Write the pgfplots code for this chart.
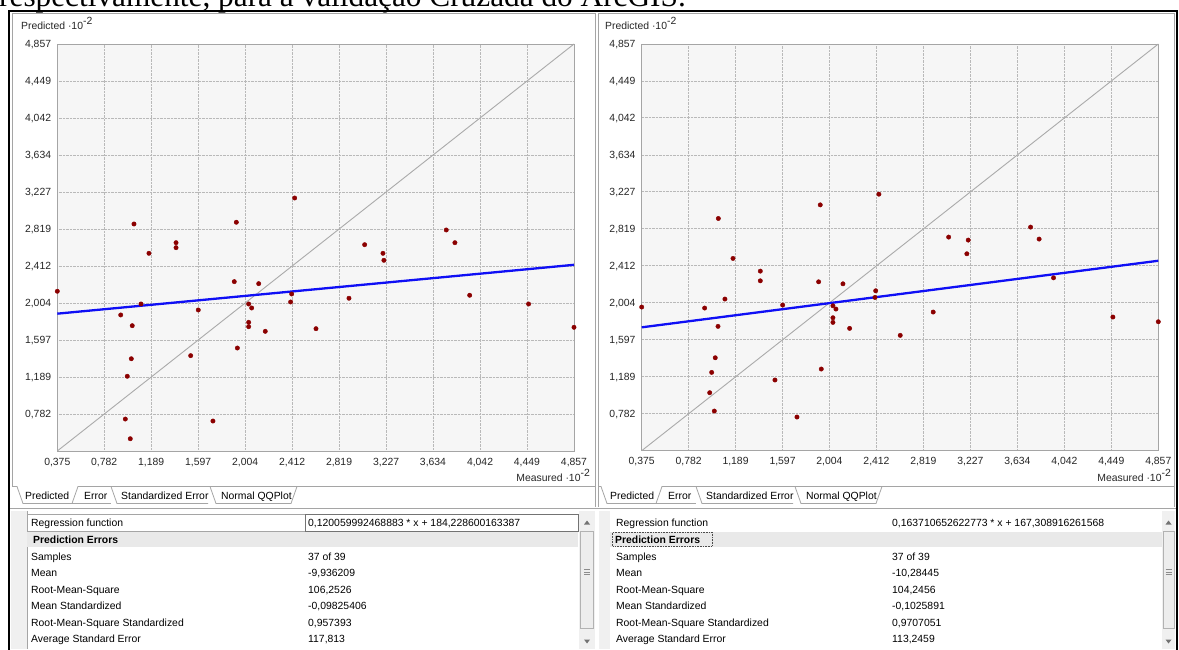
\documentclass[border=0pt]{standalone}
\usepackage{pgfplots}
\usepackage{pgfplotstable}
\pgfplotsset{compat=1.18}
\usepackage{fontspec}
\setmainfont{Liberation Sans}
\newfontfamily\seriffont{Liberation Serif}
\definecolor{ptred}{RGB}{139,0,0}
\definecolor{regblue}{RGB}{15,15,245}
\definecolor{diag}{RGB}{170,170,170}
\definecolor{plotbg}{RGB}{246,246,246}
\definecolor{gridc}{RGB}{185,185,185}
\definecolor{framec}{RGB}{165,165,165}
\definecolor{lightbg}{RGB}{240,240,240}
\definecolor{rowbg}{RGB}{233,233,233}
\newcommand{\tf}{\fontsize{10.4}{12}\selectfont}
\newcommand{\supm}{\raisebox{4.5pt}{-2}}

\pgfplotstableread{
x y
0.375 2.134
1.040 2.875
1.170 2.552
1.405 2.669
1.405 2.614
1.928 2.894
2.434 3.161
1.910 2.240
2.122 2.218
1.101 1.994
0.925 1.873
1.025 1.755
1.598 1.928
2.035 1.994
2.061 1.950
2.035 1.792
2.035 1.744
2.179 1.693
1.937 1.509
1.532 1.425
1.017 1.391
0.982 1.198
0.965 0.727
1.725 0.705
1.008 0.510
2.408 2.104
2.399 2.016
3.041 2.647
3.200 2.552
3.208 2.475
3.749 2.809
3.824 2.669
2.619 1.722
2.905 2.057
3.952 2.090
4.463 1.994
4.857 1.737
}\leftdata

\pgfplotstableread{
x y
0.375 1.958
1.040 2.934
1.167 2.494
1.404 2.354
1.404 2.247
1.924 3.084
2.433 3.202
1.910 2.236
2.121 2.214
1.097 2.046
0.921 1.947
1.037 1.745
1.598 1.980
2.034 1.972
2.060 1.936
2.034 1.840
2.034 1.789
2.179 1.723
1.933 1.275
1.531 1.154
1.013 1.399
0.982 1.238
0.965 1.014
1.005 0.812
1.722 0.746
2.405 2.137
2.399 2.064
3.038 2.729
3.208 2.696
3.196 2.545
3.749 2.839
3.823 2.707
2.618 1.646
2.904 1.903
3.948 2.280
4.463 1.848
4.857 1.796
}\rightdata

\pgfplotsset{panel/.style={
  scale only axis, width=516.7pt, height=407pt,
  xmin=0.375, xmax=4.857, ymin=0.375, ymax=4.857,
  xtick={0.375,0.782,1.189,1.597,2.004,2.412,2.819,3.227,3.634,4.042,4.449,4.857},
  xticklabels={{0,375},{0,782},{1,189},{1,597},{2,004},{2,412},{2,819},{3,227},{3,634},{4,042},{4,449},{4,857}},
  ytick={0.782,1.189,1.597,2.004,2.412,2.819,3.227,3.634,4.042,4.449,4.857},
  yticklabels={{0,782},{1,189},{1,597},{2,004},{2,412},{2,819},{3,227},{3,634},{4,042},{4,449},{4,857}},
  grid=major,
  grid style={gridc, densely dotted, line width=0.9pt},
  axis background/.style={fill=plotbg},
  axis line style={framec, line width=0.9pt},
  major tick length=0pt,
  tick label style={font=\tf, text=black!85, inner sep=0pt, text height=7.5pt, text depth=0pt},
  xticklabel style={yshift=-6.5pt},
  yticklabel style={xshift=-6pt},
  clip=false,
}}

\begin{document}
\begin{tikzpicture}[x=1pt,y=1pt]
\useasboundingbox (0,0) rectangle (1179,649);
\fill[white] (0,0) rectangle (1179,649);
\coordinate (LA) at (57.3,198);
\coordinate (RA) at (641.7,198.3);

% top cut-off text line
\node[anchor=base west, inner sep=0pt, font=\seriffont\fontsize{31.3}{34}\selectfont] at (-1,642) {respectivamente, para a validação Cruzada do ArcGIS.};

% frames
\draw[framec, line width=0.8pt] (12,{649-486.5}) -- (12,{649-13.5}) -- (595,{649-13.5}) -- (595,{649-507});
\draw[framec, line width=0.8pt] (598,{649-507}) -- (598,{649-13.5}) -- (1174.5,{649-13.5}) -- (1174.5,{649-507});

% tab strips
\begin{scope}[framec, line width=0.8pt]
\draw (12,{649-486.5}) -- (17,{649-486.5}) -- (23,{649-503.5}) -- (72,{649-503.5}) -- (78,{649-486.5}) -- (595,{649-486.5});
\draw (72,{649-503.5}) -- (111,{649-503.5});
\draw (111,{649-486.5}) -- (117,{649-503.5}) -- (208,{649-503.5});
\draw (210,{649-486.5}) -- (216,{649-503.5}) -- (291,{649-503.5}) -- (297,{649-486.5});
\draw (598,{649-486.5}) -- (601,{649-486.5}) -- (607,{649-503.5}) -- (656,{649-503.5}) -- (662,{649-486.5}) -- (1174.5,{649-486.5});
\draw (656,{649-503.5}) -- (696,{649-503.5});
\draw (696,{649-486.5}) -- (702,{649-503.5}) -- (793,{649-503.5});
\draw (795,{649-486.5}) -- (801,{649-503.5}) -- (876,{649-503.5}) -- (882,{649-486.5});
\end{scope}
\begin{scope}[font=\tf]
\node[anchor=base west, inner sep=0pt] at (25,{649-499.5}) {Predicted};
\node[anchor=base west, inner sep=0pt] at (84,{649-499.5}) {Error};
\node[anchor=base west, inner sep=0pt] at (121,{649-499.5}) {Standardized Error};
\node[anchor=base west, inner sep=0pt] at (221,{649-499.5}) {Normal QQPlot};
\node[anchor=base west, inner sep=0pt] at (610,{649-499.5}) {Predicted};
\node[anchor=base west, inner sep=0pt] at (668,{649-499.5}) {Error};
\node[anchor=base west, inner sep=0pt] at (706,{649-499.5}) {Standardized Error};
\node[anchor=base west, inner sep=0pt] at (806,{649-499.5}) {Normal QQPlot};
\end{scope}

% splitter
\draw[framec, line width=0.8pt] (9,{649-508.5}) -- (1177,{649-508.5});

% left table
\fill[lightbg] (11,0) rectangle (27,{649-511});
\draw[framec, line width=0.6pt] (27,0) -- (27,{649-511});
\fill[rowbg] (27,{649-547}) rectangle (578,{649-531.5});
\draw[framec, line width=0.8pt] (27,{649-531.5}) rectangle (305,{649-514});
\draw[black!55, line width=0.8pt] (305,{649-531.5}) rectangle (578,{649-514});
\fill[lightbg] (579,0) rectangle (595,{649-511});
\fill[black!55] (584,{649-524.5}) -- (590,{649-524.5}) -- (587,{649-520.5}) -- cycle;
\draw[black!30, fill=black!7, line width=0.7pt] (580.5,{649-628}) rectangle (593.5,{649-531});
\draw[black!45, line width=0.6pt] (584,{649-569.5}) -- (590,{649-569.5}) (584,{649-572}) -- (590,{649-572}) (584,{649-574.5}) -- (590,{649-574.5});
\fill[black!55] (584,{649-639.5}) -- (590,{649-639.5}) -- (587,{649-643.5}) -- cycle;

% right table
\fill[lightbg] (599,0) rectangle (610,{649-511});
\fill[rowbg] (610,{649-547}) rectangle (1162,{649-531.5});
\draw[black!70, densely dotted, line width=0.6pt] (612.5,{649-546}) rectangle (712,{649-532});
\fill[lightbg] (1162,0) rectangle (1175,{649-511});
\fill[black!55] (1165.5,{649-524.5}) -- (1171.5,{649-524.5}) -- (1168.5,{649-520.5}) -- cycle;
\draw[black!30, fill=black!7, line width=0.7pt] (1163,{649-628}) rectangle (1174,{649-531});
\draw[black!45, line width=0.6pt] (1165.5,{649-569.5}) -- (1171.5,{649-569.5}) (1165.5,{649-572}) -- (1171.5,{649-572}) (1165.5,{649-574.5}) -- (1171.5,{649-574.5});
\fill[black!55] (1165.5,{649-639.5}) -- (1171.5,{649-639.5}) -- (1168.5,{649-643.5}) -- cycle;

\begin{scope}[font=\tf, every node/.style={anchor=base west, inner sep=0pt}]
\node at (31,{649-526.5}) {Regression function};
\node at (308,{649-526.5}) {0,120059992468883 * x + 184,228600163387};
\node at (33,{649-543}) {\bfseries Prediction Errors};
\node at (31,{649-560}) {Samples};            \node at (308,{649-560}) {37 of 39};
\node at (31,{649-576.3}) {Mean};             \node at (308,{649-576.3}) {-9,936209};
\node at (31,{649-593}) {Root-Mean-Square};   \node at (308,{649-593}) {106,2526};
\node at (31,{649-609.3}) {Mean Standardized};\node at (308,{649-609.3}) {-0,09825406};
\node at (31,{649-626}) {Root-Mean-Square Standardized}; \node at (308,{649-626}) {0,957393};
\node at (31,{649-642.7}) {Average Standard Error}; \node at (308,{649-642.7}) {117,813};

\node at (616,{649-526.5}) {Regression function};
\node at (892,{649-526.5}) {0,163710652622773 * x + 167,308916261568};
\node at (615,{649-543}) {\bfseries Prediction Errors};
\node at (616,{649-560}) {Samples};            \node at (892,{649-560}) {37 of 39};
\node at (616,{649-576.3}) {Mean};             \node at (892,{649-576.3}) {-10,28445};
\node at (616,{649-593}) {Root-Mean-Square};   \node at (892,{649-593}) {104,2456};
\node at (616,{649-609.3}) {Mean Standardized};\node at (892,{649-609.3}) {-0,1025891};
\node at (616,{649-626}) {Root-Mean-Square Standardized}; \node at (892,{649-626}) {0,9707051};
\node at (616,{649-642.7}) {Average Standard Error}; \node at (892,{649-642.7}) {113,2459};

\node[text=black!85] at (21,{649-29.5}) {Predicted ·10\supm};
\node[text=black!85] at (605,{649-29.5}) {Predicted ·10\supm};
\node[anchor=base east, text=black!85] at (590,{649-481}) {Measured ·10\supm};
\node[anchor=base east, text=black!85] at (1171,{649-481}) {Measured ·10\supm};
\end{scope}

% outer black frame
\draw[black, line width=2.4pt] (9.2,-2) -- (9.2,{649-11}) -- (1177,{649-11}) -- (1177,-2);

% left plot
\begin{axis}[panel, at={(LA)}, anchor=south west]
\addplot[diag, line width=0.9pt] coordinates {(0.375,0.375) (4.857,4.857)};
\addplot[regblue, line width=2.3pt] coordinates {(0.375,1.8873) (4.857,2.4254)};
\addplot[only marks, mark=*, mark size=2.2pt, color=ptred, mark options={fill=ptred}] table {\leftdata};
\end{axis}

% right plot
\begin{axis}[panel, at={(RA)}, anchor=south west, width=516.6pt, height=406.7pt]
\addplot[diag, line width=0.9pt] coordinates {(0.375,0.375) (4.857,4.857)};
\addplot[regblue, line width=2.3pt] coordinates {(0.375,1.7345) (4.857,2.4682)};
\addplot[only marks, mark=*, mark size=2.2pt, color=ptred, mark options={fill=ptred}] table {\rightdata};
\end{axis}
\end{tikzpicture}
\end{document}
